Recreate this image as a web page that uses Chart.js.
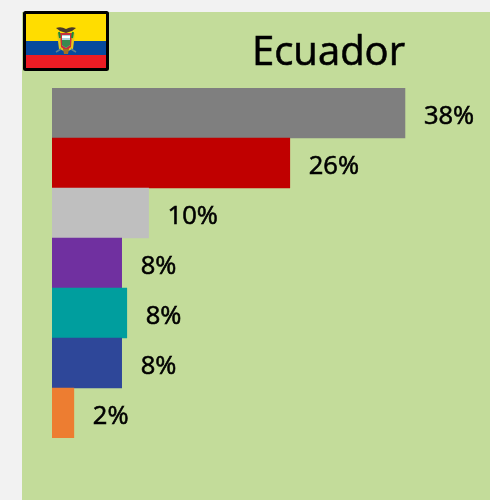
<!DOCTYPE html>
<html>
<head>
<meta charset="utf-8">
<style>
html,body{margin:0;padding:0;width:490px;height:500px;overflow:hidden;background:#f2f2f2}
#panel{position:absolute;left:22px;top:12px;width:468px;height:488px;background:#c3dc9a}
#wrap{position:absolute;left:0;top:0;width:490px;height:500px}
#flag{position:absolute;left:23px;top:11px}
</style>
<script src="https://cdn.jsdelivr.net/npm/chart.js@4"></script>
</head>
<body>
<div id="panel"></div>
<div id="wrap"><canvas id="c" width="490" height="500"></canvas></div>
<svg id="flag" width="86" height="60" viewBox="0 0 86 60">
<rect x="1.5" y="1.5" width="83" height="57" fill="#ffdd00"/>
<rect x="1.5" y="30" width="83" height="14" fill="#064a9e"/>
<rect x="1.5" y="44" width="83" height="14.5" fill="#ed1c24"/>
<path d="M33 17 Q38 15 43 18 Q48 15 53 17 L49 20 L43 22 L37 20 Z" fill="#4a3a28"/>
<path d="M34 22 L36 38 L41 40 L38 22 Z" fill="#e8c81a"/>
<path d="M52 22 L50 38 L45 40 L48 22 Z" fill="#e8c81a"/>
<path d="M37 22 L38 36 L43 40 L48 36 L49 22 Z" fill="#c8303c"/>
<path d="M39 24 H47 V34 L43 37 L39 34 Z" fill="#a8d4dc"/>
<path d="M39 29 H47 V34 L43 37 L39 34 Z" fill="#3a8a50"/>
<path d="M39 25 H47 V27 H39 Z" fill="#ffffff"/>
<path d="M36 21 L37 27 M50 21 L49 27" stroke="#1a8a3a" stroke-width="2"/>
<path d="M40 38 H46 L45 43 H41 Z" fill="#a5701f"/>
<path d="M33 41 L38 38 M53 41 L48 38" stroke="#5a7f8f" stroke-width="1.5"/>
<rect x="1.5" y="1.5" width="83" height="57" fill="none" stroke="#000" stroke-width="3" rx="1"/>
</svg>
<script>
const titleText = "Ecuador";
const categories = ["a","b","c","d","e","f","g"];
const values = [38, 25.6, 10.4, 7.5, 8.05, 7.5, 2.35];
const tickLabels = ["38%","26%","10%","8%","8%","8%","2%"];
const colors = ["#7f7f7f","#c00000","#bfbfbf","#7030a0","#009e9e","#2e4799","#ed7d31"];

const overlay = {
  id:"overlay",
  afterDatasetsDraw(chart){
    const {ctx} = chart;
    ctx.save();
    ctx.fillStyle = "#000";
    ctx.strokeStyle = "#000";
    ctx.lineWidth = 0.6;
    ctx.textBaseline = "middle";
    ctx.textAlign = "left";
    ctx.font = '25.5px "Open Sans"';
    chart.getDatasetMeta(0).data.forEach((bar,i)=>{
      const x = bar.x + 19, y = bar.y + 4;
      ctx.fillText(tickLabels[i], x, y);
      ctx.strokeText(tickLabels[i], x, y);
    });
    ctx.textAlign = "center";
    ctx.font = '40px "Open Sans"';
    ctx.fillText(titleText, 328.5, 54);
    ctx.strokeText(titleText, 328.5, 54);
    ctx.restore();
  }
};

new Chart(document.getElementById("c"),{
  type:"bar",
  data:{labels:categories,datasets:[{data:values,backgroundColor:colors,borderWidth:0,barPercentage:1,categoryPercentage:1}]},
  options:{
    indexAxis:"y",
    responsive:false,
    animation:false,
    layout:{padding:{left:52,top:88,right:1,bottom:62}},
    plugins:{legend:{display:false},tooltip:{enabled:false},title:{display:false}},
    scales:{
      x:{display:false,min:0,max:47.05},
      y:{display:false}
    }
  },
  plugins:[overlay]
});
</script>
</body>
</html>
